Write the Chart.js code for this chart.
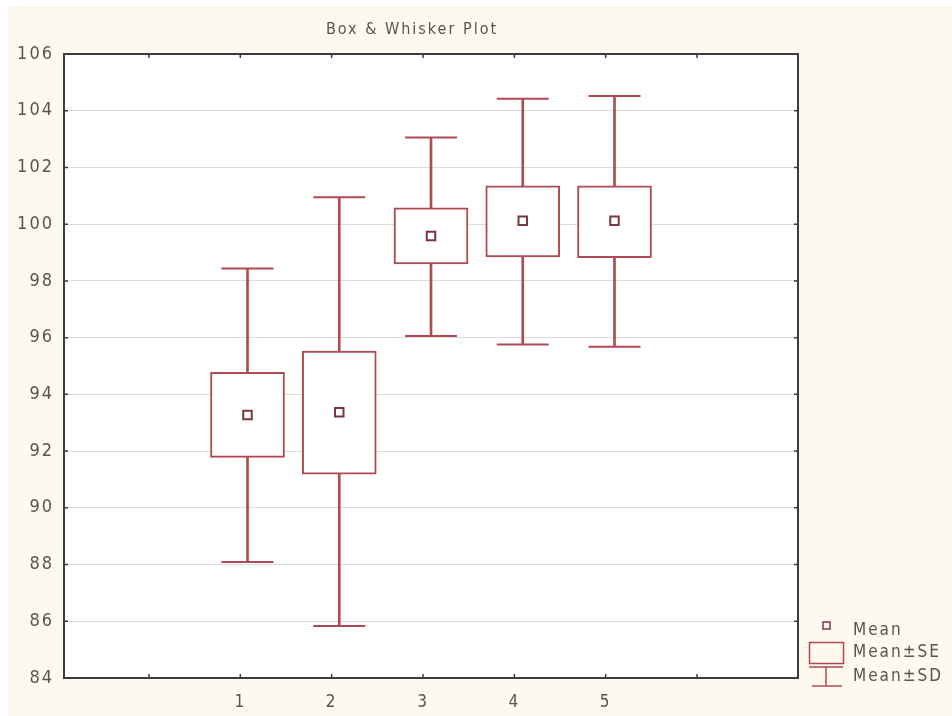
<!DOCTYPE html>
<html>
<head>
<meta charset="utf-8">
<script src="https://cdn.jsdelivr.net/npm/chart.js@4"></script>
<style>
  html, body { margin: 0; padding: 0; background: #ffffff; }
  #wrap { position: absolute; left: 8px; top: 6px; width: 944px; height: 710px; background: #fdf9ef; }
</style>
</head>
<body>
<div id="wrap"><canvas id="chart"></canvas></div>
<script>
// Datos (media, media±EE, media±DE)
const groups = ['1', '2', '3', '4', '5'];
const groupX = [1, 2, 3, 4, 5];
const means  = [93.27, 93.37, 99.58, 100.12, 100.12];
const seLow  = [91.78, 91.19, 98.60, 98.85, 98.82];
const seHigh = [94.78, 95.53, 100.58, 101.35, 101.35];
const sdLow  = [88.09, 85.83, 96.06, 95.76, 95.68];
const sdHigh = [98.44, 100.95, 103.06, 104.42, 104.52];
const yTicks = [84, 86, 88, 90, 92, 94, 96, 98, 100, 102, 104, 106];
const xTickValues = [0, 1, 2, 3, 4, 5, 6];

const FONT = '"Liberation Sans Narrow", "DejaVu Sans Condensed", Roboto, sans-serif';
const RED = '#b04a52';
const DARK = '#7a3840';
const TEXT = '#555555';
const SPACING = '2px';

// --- PLUGIN: fondo, marco, ticks internos, titulo y leyenda ---
const decor = {
    id: 'decor',
    beforeDraw(chart) {
        const { ctx, chartArea: a } = chart;
        ctx.letterSpacing = SPACING;
        ctx.save();
        ctx.fillStyle = '#ffffff';
        ctx.fillRect(a.left, a.top, a.right - a.left, a.bottom - a.top);
        ctx.restore();
    },
    afterDraw(chart) {
        const { ctx, chartArea: a } = chart;
        const xs = chart.scales.xTicks, ys = chart.scales.y;
        ctx.save();
        ctx.strokeStyle = '#3c3c3c';
        ctx.lineWidth = 2;
        ctx.strokeRect(a.left, a.top, a.right - a.left, a.bottom - a.top);
        ctx.lineWidth = 1.5;
        ctx.beginPath();
        xTickValues.forEach(v => {
            const px = xs.getPixelForValue(v);
            ctx.moveTo(px, a.bottom); ctx.lineTo(px, a.bottom - 4);
            ctx.moveTo(px, a.top); ctx.lineTo(px, a.top + 4);
        });
        yTicks.forEach(v => {
            const py = ys.getPixelForValue(v);
            ctx.moveTo(a.left, py); ctx.lineTo(a.left + 4, py);
            ctx.moveTo(a.right, py); ctx.lineTo(a.right - 4, py);
        });
        ctx.stroke();

        // titulo
        ctx.letterSpacing = SPACING;
        ctx.fillStyle = TEXT;
        ctx.font = '16px ' + FONT;
        ctx.textAlign = 'center';
        ctx.textBaseline = 'middle';
        ctx.fillText('Box & Whisker Plot', 404, 24);

        // leyenda
        ctx.textAlign = 'left';
        ctx.font = '17px ' + FONT;
        ctx.fillText('Mean', 845, 625);
        ctx.fillText('Mean±SE', 845, 647);
        ctx.fillText('Mean±SD', 845, 671);

        ctx.strokeStyle = DARK;
        ctx.lineWidth = 1.5;
        ctx.strokeRect(815, 616, 7, 7);
        ctx.strokeStyle = RED;
        ctx.strokeRect(801.5, 636.5, 34, 21);
        ctx.beginPath();
        ctx.moveTo(801, 661); ctx.lineTo(835, 661);
        ctx.moveTo(818, 661); ctx.lineTo(818, 680);
        ctx.moveTo(804, 680); ctx.lineTo(834, 680);
        ctx.stroke();
        ctx.restore();
    }
};

const ctx = document.getElementById('chart').getContext('2d');
const chart = new Chart(ctx, {
    type: 'bar',
    data: {
        datasets: [
            { // tallo de los bigotes (media±DE)
                type: 'bar',
                data: groupX.map((x, i) => ({ x, y: [sdLow[i], sdHigh[i]] })),
                backgroundColor: RED, borderWidth: 0,
                barThickness: 2, grouped: false, order: 4
            },
            { // extremos de los bigotes
                type: 'scatter',
                data: groupX.map((x, i) => ({ x, y: sdHigh[i] })).concat(groupX.map((x, i) => ({ x, y: sdLow[i] }))),
                pointStyle: 'line', pointRadius: 26, borderColor: RED, borderWidth: 2,
                order: 3
            },
            { // caja media±EE
                type: 'bar',
                data: groupX.map((x, i) => ({ x, y: [seLow[i], seHigh[i]] })),
                backgroundColor: '#ffffff', borderColor: RED, borderWidth: 2,
                borderSkipped: false, barThickness: 74, grouped: false, order: 2
            },
            { // media
                type: 'scatter',
                data: groupX.map((x, i) => ({ x, y: means[i] })),
                pointStyle: 'rect', pointRadius: 6, borderColor: DARK, borderWidth: 2,
                backgroundColor: '#ffffff', order: 1
            }
        ]
    },
    options: {
        responsive: true, maintainAspectRatio: false, animation: false,
        layout: { padding: { top: 48, right: 154, left: 0, bottom: 0 } },
        plugins: { legend: { display: false }, tooltip: { enabled: false }, title: { display: false } },
        scales: {
            x: { type: 'linear', display: false, offset: false, min: -1, max: 7 },
            xTicks: {
                type: 'linear', position: 'bottom', offset: false, min: -0.93, max: 7.105,
                afterBuildTicks: s => { s.ticks = xTickValues.map(v => ({ value: v })); },
                afterFit: s => { s.height = 38; },
                grid: { display: false, drawTicks: false, offset: false },
                border: { display: false },
                ticks: {
                    autoSkip: false, maxRotation: 0, padding: 14, color: TEXT,
                    font: { family: FONT, size: 17 },
                    callback: v => (v >= 1 && v <= 5) ? groups[v - 1] : ''
                }
            },
            y: {
                min: 84, max: 106,
                afterBuildTicks: s => { s.ticks = yTicks.map(v => ({ value: v })); },
                afterFit: s => { s.width = 56; },
                grid: { color: '#dcdcdc', lineWidth: 1, drawTicks: false },
                border: { display: false },
                ticks: { padding: 10, color: TEXT, font: { family: FONT, size: 18 } }
            }
        }
    },
    plugins: [decor]
});
</script>
</body>
</html>
